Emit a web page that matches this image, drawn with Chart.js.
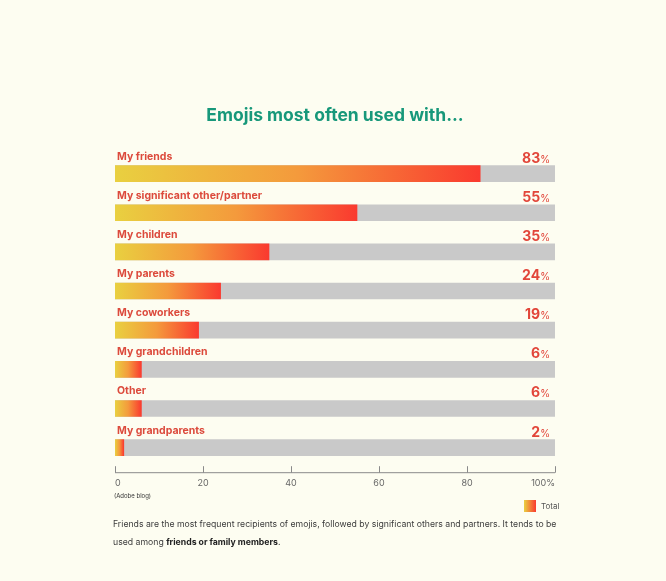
<!DOCTYPE html>
<html>
<head>
<meta charset="utf-8">
<script src="https://cdn.jsdelivr.net/npm/chart.js@4.4.1/dist/chart.umd.min.js"></script>
<style>
  html, body { margin: 0; padding: 0; background: #fdfdf1; }
  #wrap { position: relative; width: 666px; height: 581px; }
  #c { position: absolute; left: 0; top: 0; }
  .src { position: absolute; left: 114px; top: 492px; font: 6px Inter, "Noto Sans", sans-serif; color: #333; }
  .foot { position: absolute; left: 113px; top: 515px; font: 8.7px/18px Inter, "Noto Sans", sans-serif; color: #3c3c3c; white-space: nowrap; }
  .foot b { color: #222; font-weight: 700; }
</style>
</head>
<body>
<div id="wrap">
  <canvas id="c" width="666" height="581"></canvas>
  <div class="src">(Adobe blog)</div>
  <div class="foot">Friends are the most frequent recipients of emojis, followed by significant others and partners. It tends to be<br>used among <b>friends or family members</b>.</div>
</div>
<script>
const categories = ["My friends", "My significant other/partner", "My children", "My parents", "My coworkers", "My grandchildren", "Other", "My grandparents"];
const totalValues = [83, 55, 35, 24, 19, 6, 6, 2];
const trackValues = [100, 100, 100, 100, 100, 100, 100, 100];
const tickValues = [0, 20, 40, 60, 80, 100];
const titleText = "Emojis most often used with...";
const legendLabel = "Total";

const FONT = "Inter, 'Noto Sans', sans-serif";
const RED = "#e2463a";

function barGradient(ctx, x0, x1) {
  const g = ctx.createLinearGradient(x0, 0, x1, 0);
  g.addColorStop(0, "#e9d040");
  g.addColorStop(0.5, "#f49a3c");
  g.addColorStop(1, "#fa3a2f");
  return g;
}

const overlay = {
  id: "overlay",
  afterDatasetsDraw(chart) {
    const ctx = chart.ctx;
    const xs = chart.scales.x;
    const meta = chart.getDatasetMeta(0);
    const left = xs.getPixelForValue(0);
    const right = xs.getPixelForValue(100);
    ctx.save();
    meta.data.forEach((bar, i) => {
      const y = bar.y;
      ctx.textBaseline = "alphabetic";
      ctx.fillStyle = "#dc4a3c";
      ctx.textAlign = "left";
      ctx.font = "bold 10.5px " + FONT;
      ctx.fillText(categories[i], left + 2, y - 14);
      ctx.fillStyle = RED;
      ctx.textAlign = "right";
      ctx.font = "10px " + FONT;
      const pw = ctx.measureText("%").width;
      ctx.fillText("%", right - 5, y - 11);
      ctx.font = "bold 14px " + FONT;
      ctx.fillText(String(totalValues[i]), right - 5 - pw, y - 11);
    });
    const yAxis = chart.chartArea.bottom + 5;
    ctx.strokeStyle = "#8a8a8a";
    ctx.lineWidth = 1;
    ctx.beginPath();
    ctx.moveTo(left, yAxis + 0.5);
    ctx.lineTo(right, yAxis + 0.5);
    tickValues.forEach(v => {
      const x = Math.round(xs.getPixelForValue(v)) + 0.5;
      ctx.moveTo(x, yAxis + 0.5);
      ctx.lineTo(x, yAxis - 6);
    });
    ctx.stroke();
    const lx = 524, ly = 500;
    const lg = ctx.createLinearGradient(lx, 0, lx + 12, 0);
    lg.addColorStop(0, "#e9d040");
    lg.addColorStop(1, "#fa3a2f");
    ctx.fillStyle = lg;
    ctx.fillRect(lx, ly, 12, 12);
    ctx.fillStyle = "#555";
    ctx.font = "8px " + FONT;
    ctx.textAlign = "left";
    ctx.textBaseline = "middle";
    ctx.fillText(legendLabel, lx + 17, ly + 6.5);
    ctx.restore();
  }
};

new Chart(document.getElementById("c"), {
  type: "bar",
  data: {
    labels: categories,
    datasets: [
      {
        label: legendLabel,
        data: totalValues,
        order: 0,
        grouped: false,
        barThickness: 16,
        backgroundColor: (c) => {
          const chart = c.chart;
          if (!chart.chartArea || c.dataIndex === undefined) return "#f49a3c";
          const xs = chart.scales.x;
          const x0 = xs.getPixelForValue(0);
          const x1 = xs.getPixelForValue(c.raw);
          return barGradient(chart.ctx, x0, x1);
        }
      },
      {
        label: "track",
        data: trackValues,
        order: 1,
        grouped: false,
        barThickness: 16,
        backgroundColor: "#c9c9c9"
      }
    ]
  },
  options: {
    indexAxis: "y",
    responsive: false,
    animation: false,
    layout: { padding: { left: 115, right: 111, top: 90, bottom: 89 } },
    scales: {
      x: {
        min: 0, max: 100,
        grid: { display: false },
        border: { display: false },
        ticks: {
          stepSize: 20,
          padding: 3,
          align: "inner",
          color: "#666",
          font: { family: FONT, size: 9 },
          callback: (v) => v === 100 ? "100%" : String(v)
        }
      },
      y: { display: false }
    },
    plugins: {
      legend: { display: false },
      tooltip: { enabled: false },
      title: {
        display: true,
        text: titleText,
        color: "#17987a",
        font: { family: FONT, size: 17.5, weight: "bold" },
        padding: { top: 15, bottom: 28 }
      }
    }
  },
  plugins: [overlay]
});
</script>
</body>
</html>
